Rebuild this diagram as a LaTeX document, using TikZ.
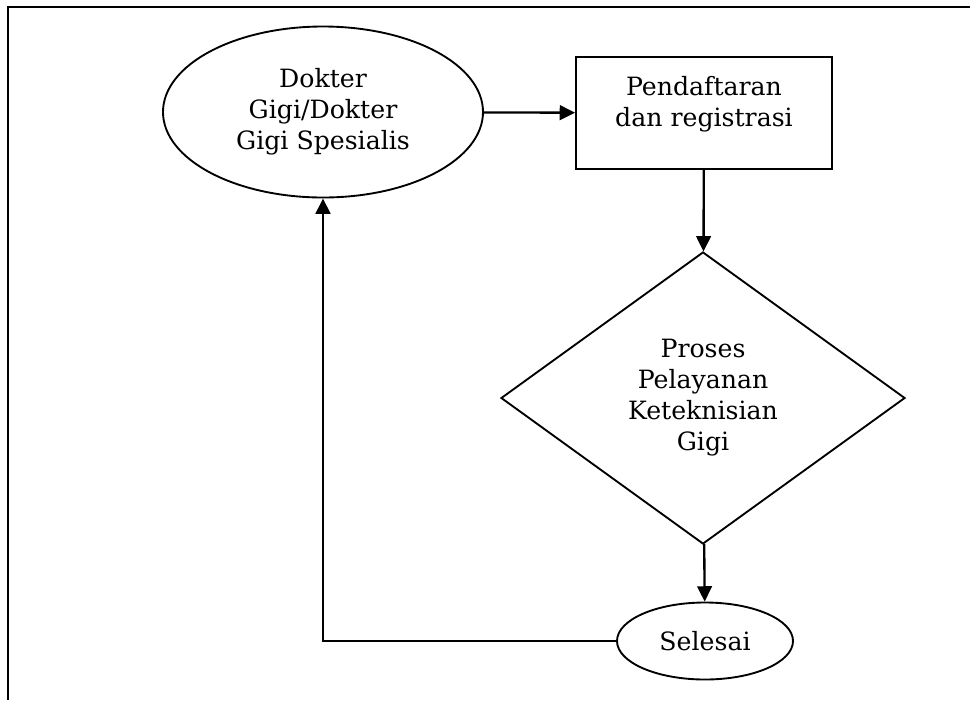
\documentclass[tikz,border=0pt]{standalone}
\usepackage{fontspec}
\setmainfont{DejaVu Serif}
\usepackage{tikz}
\usetikzlibrary{shapes.geometric, arrows.meta}
\tikzstyle{arrow} = [line width=2pt,-{Triangle[length=0.46cm,width=0.44cm]}]

\begin{document}
\begin{tikzpicture}[node distance=8cm, auto, line width=1.6pt,
        every node/.style={font=\fontsize{21.5}{26.5}\selectfont, align=center}]
        \tikzstyle{ellipsebox} = [ellipse, draw, inner sep=0pt]
        \tikzstyle{block} = [rectangle, draw, minimum width=7.68cm, minimum height=3.36cm]
        \tikzstyle{decision} = [diamond, draw, inner sep=0pt,
        minimum width=12.12cm, minimum height=8.76cm]
        \tikzstyle{line} = [arrow]

        \useasboundingbox (0,0) rectangle (29.1,-21);
        % open frame: only top and left edges show
        \draw [line width=2.2pt] (0.24,-21) -- (0.24,-0.21) -- (29.1,-0.21);

        \node [ellipsebox, minimum width=9.6cm, minimum height=5.13cm] at (9.69,-3.36) (node0)
            {Dokter\\Gigi/Dokter\\Gigi Spesialis};
        \node [block, right of=node0, xshift=3.43cm, yshift=-0.03cm] (node1)
            {Pendaftaran\\dan registrasi\\[-0.21cm]};
        \node [decision, below of=node1, yshift=-0.55cm, xshift=-0.03cm] (node2)
            {Proses\\Pelayanan\\Keteknisian\\Gigi};
        \node [ellipsebox, minimum width=5.28cm, minimum height=2.31cm,
            below of=node2, yshift=0.71cm, xshift=0.06cm] (node3) {Selesai};

        \draw [line] (node0) -- (node1);
        \draw [line] (node1) -- (node2);
        \draw [line] (node2) -- (node3);
        \draw [line] (node3.west) -| (node0.south);
    \end{tikzpicture}
\end{document}
